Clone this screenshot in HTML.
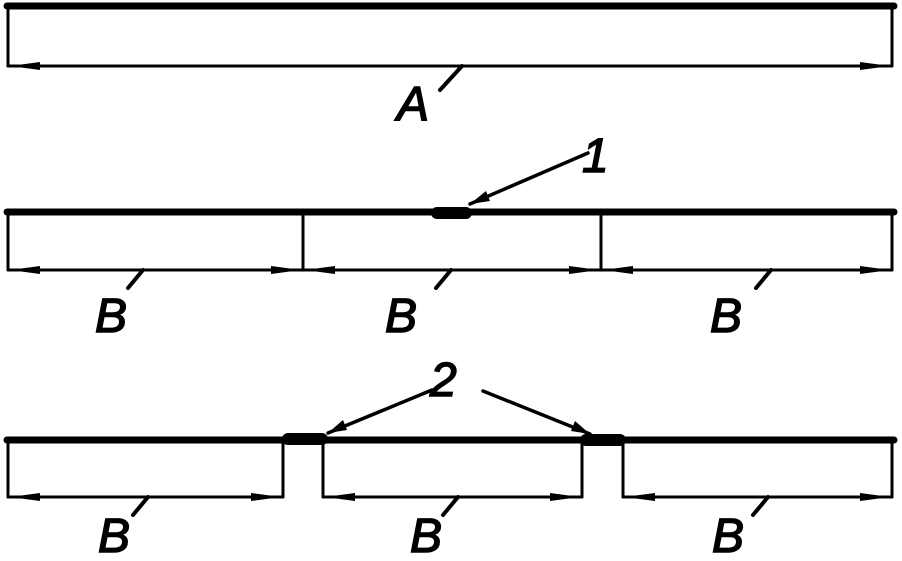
<!DOCTYPE html>
<html><head><style>body{margin:0;background:#fff}svg{display:block}text{font-family:"Liberation Sans",sans-serif;font-style:italic;font-size:48px;fill:#000;stroke:#000;stroke-width:1.5}</style></head><body>
<svg width="902" height="561" viewBox="0 0 902 561" xmlns="http://www.w3.org/2000/svg">
<g stroke="#000" fill="none" stroke-linecap="round">
<line x1="7" y1="6" x2="894" y2="6" stroke-width="7"/>
<line x1="8" y1="6" x2="8" y2="66" stroke-width="3"/>
<line x1="892" y1="6" x2="892" y2="66" stroke-width="3"/>
<line x1="8" y1="66" x2="892" y2="66" stroke-width="3"/>
<line x1="462" y1="66" x2="440" y2="90" stroke-width="4"/>
<line x1="7" y1="212" x2="894" y2="212" stroke-width="7"/>
<line x1="437" y1="213" x2="466" y2="213" stroke-width="12"/>
<line x1="8" y1="212" x2="8" y2="270" stroke-width="3"/>
<line x1="303" y1="212" x2="303" y2="270" stroke-width="3"/>
<line x1="601" y1="212" x2="601" y2="270" stroke-width="3"/>
<line x1="892" y1="212" x2="892" y2="270" stroke-width="3"/>
<line x1="8" y1="270" x2="892" y2="270" stroke-width="3"/>
<line x1="588" y1="153" x2="470" y2="204" stroke-width="3.5"/>
<line x1="143" y1="270" x2="128" y2="288" stroke-width="4"/>
<line x1="451" y1="270" x2="436" y2="288" stroke-width="4"/>
<line x1="771" y1="270" x2="756" y2="288" stroke-width="4"/>
<line x1="7" y1="440" x2="894" y2="440" stroke-width="7"/>
<line x1="288" y1="439" x2="322" y2="439" stroke-width="12"/>
<line x1="586" y1="440" x2="620" y2="440" stroke-width="12"/>
<line x1="8" y1="440" x2="8" y2="497" stroke-width="3"/>
<line x1="283" y1="440" x2="283" y2="497" stroke-width="3"/>
<line x1="323" y1="440" x2="323" y2="497" stroke-width="3"/>
<line x1="582" y1="440" x2="582" y2="497" stroke-width="3"/>
<line x1="623" y1="440" x2="623" y2="497" stroke-width="3"/>
<line x1="892" y1="440" x2="892" y2="497" stroke-width="3"/>
<line x1="8" y1="497" x2="283" y2="497" stroke-width="3"/>
<line x1="323" y1="497" x2="582" y2="497" stroke-width="3"/>
<line x1="623" y1="497" x2="892" y2="497" stroke-width="3"/>
<line x1="432" y1="390" x2="328" y2="433" stroke-width="3.5"/>
<line x1="483" y1="391" x2="590" y2="434" stroke-width="3.5"/>
<line x1="148" y1="497" x2="133" y2="515" stroke-width="4"/>
<line x1="458" y1="497" x2="443" y2="515" stroke-width="4"/>
<line x1="768" y1="497" x2="753" y2="515" stroke-width="4"/>
</g>
<g fill="#000">
<polygon points="470,204 486,191 490,201"/>
<polygon points="328,433 343,420 347,430"/>
<polygon points="590,434 571,431 575,421"/>
<!-- dimension arrowheads -->
<polygon points="10,66 40,62 40,70"/><polygon points="890,66 860,62 860,70"/>
<polygon points="10,270 40,266 40,274"/><polygon points="301,270 271,266 271,274"/>
<polygon points="305,270 335,266 335,274"/><polygon points="599,270 569,266 569,274"/>
<polygon points="603,270 633,266 633,274"/><polygon points="890,270 860,266 860,274"/>
<polygon points="10,497 40,493 40,501"/><polygon points="281,497 251,493 251,501"/>
<polygon points="325,497 355,493 355,501"/><polygon points="580,497 550,493 550,501"/>
<polygon points="625,497 655,493 655,501"/><polygon points="890,497 860,493 860,501"/>
</g>
<text x="397" y="120">A</text>
<text x="582" y="172">1</text>
<text x="95" y="332">B</text>
<text x="385" y="332">B</text>
<text x="710" y="332">B</text>
<text x="430" y="396">2</text>
<text x="98" y="552">B</text>
<text x="410" y="552">B</text>
<text x="712" y="552">B</text>
</svg>
</body></html>
